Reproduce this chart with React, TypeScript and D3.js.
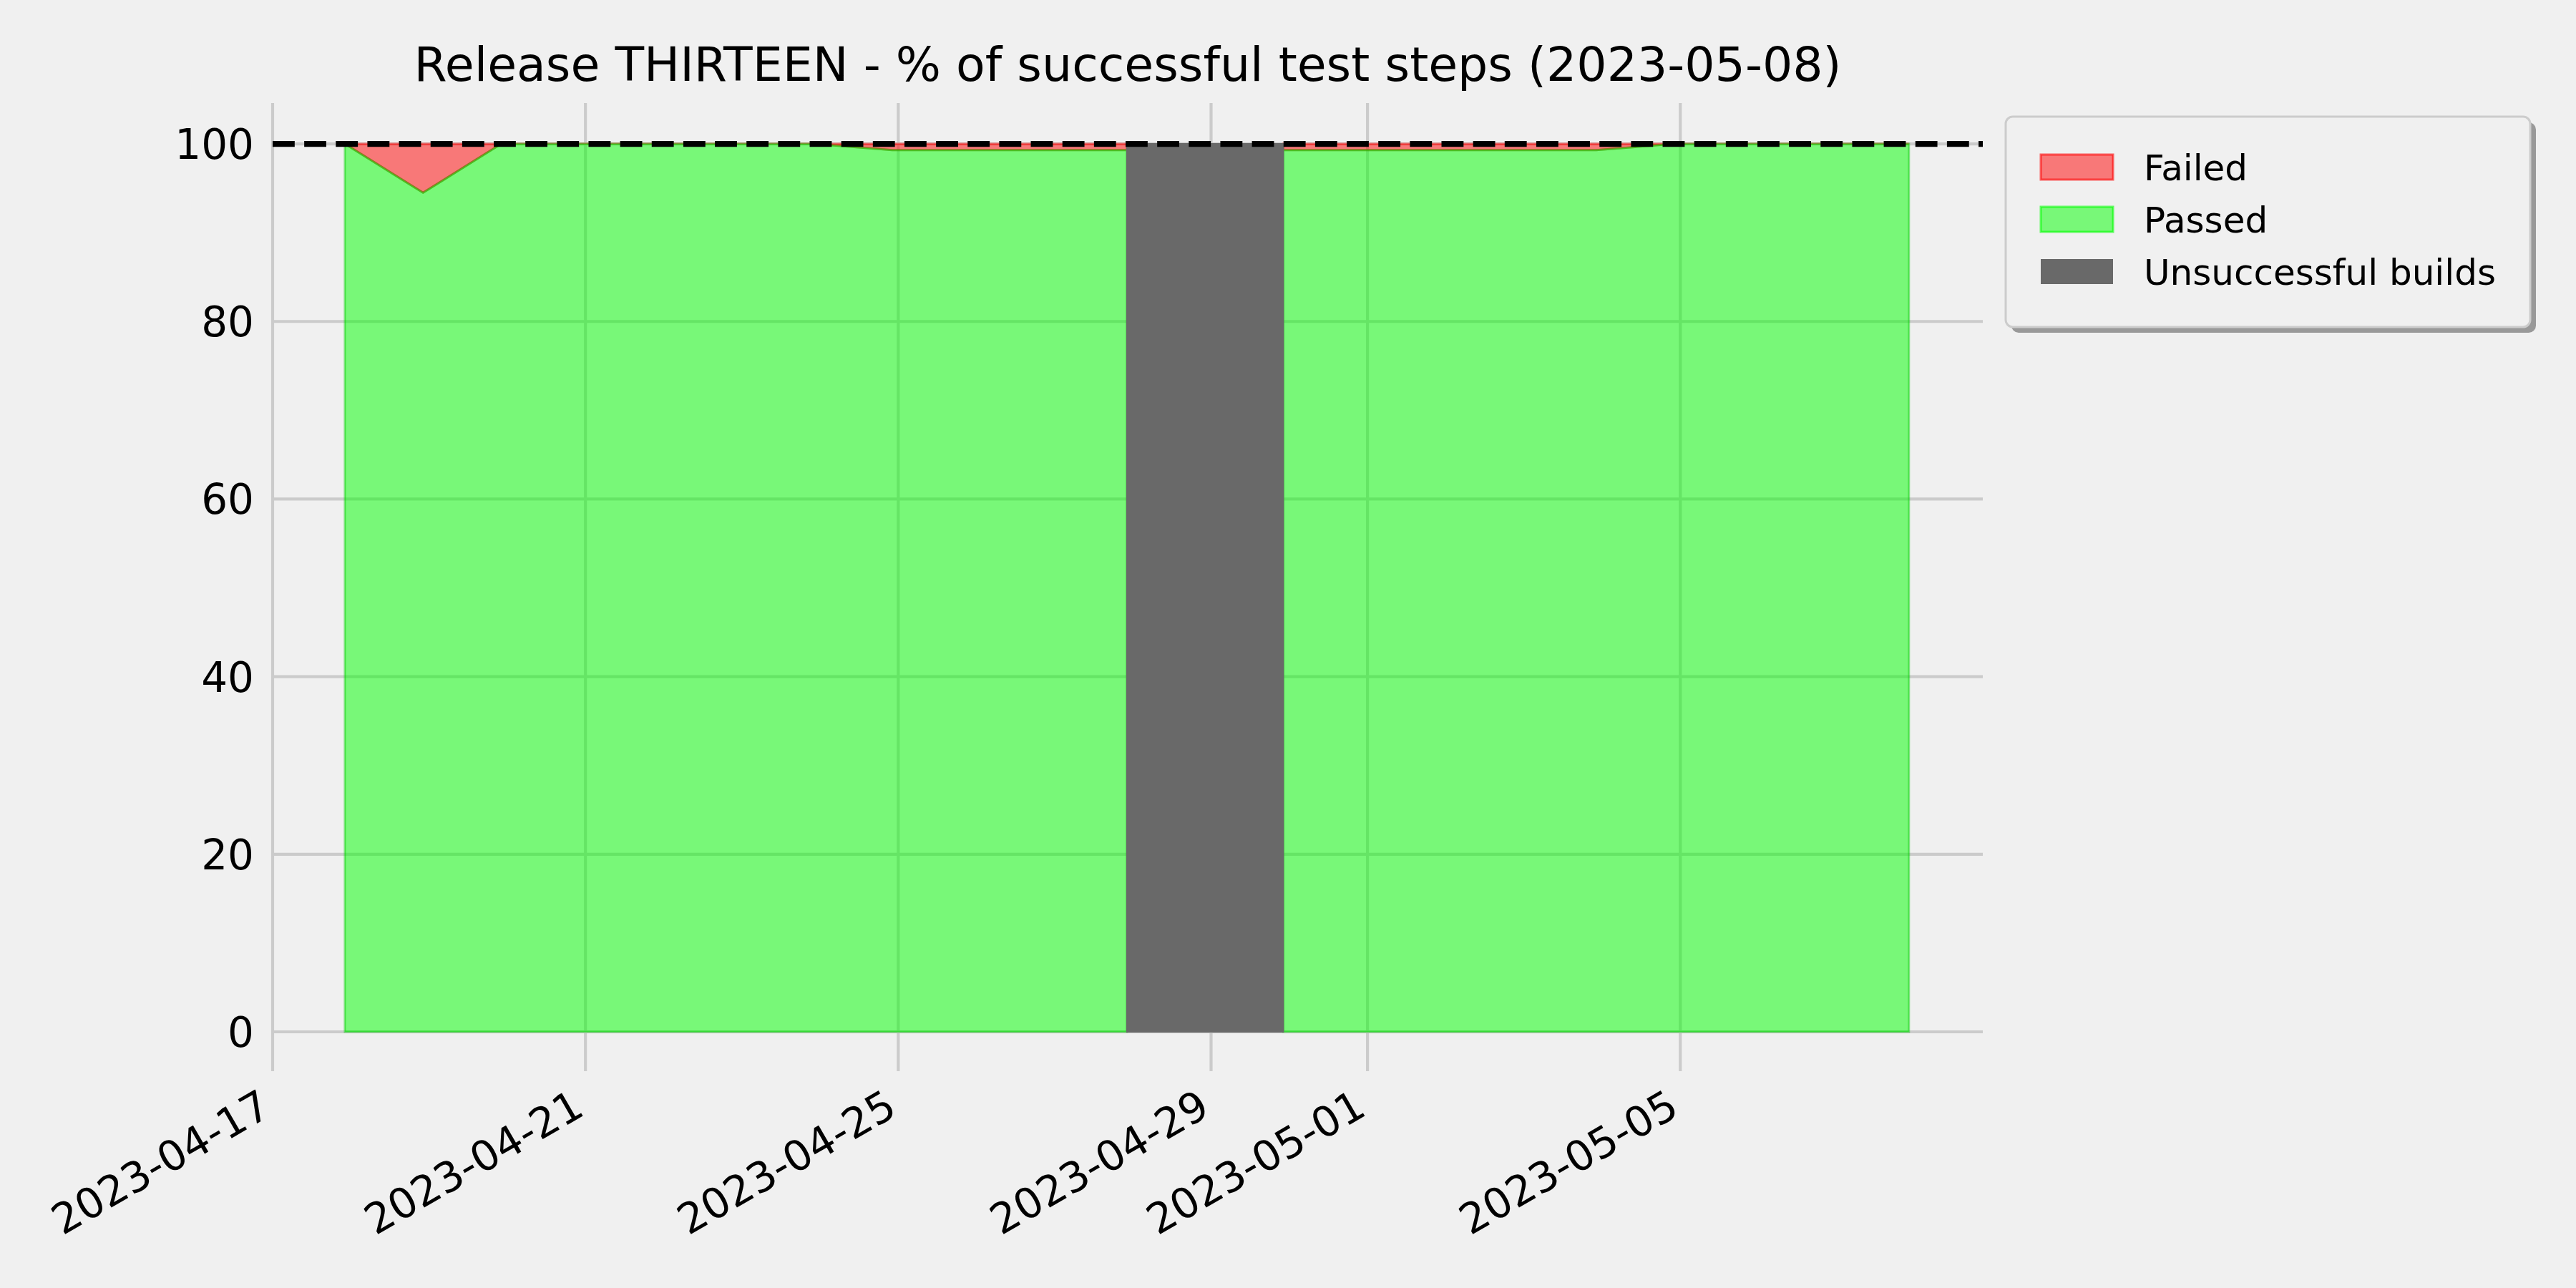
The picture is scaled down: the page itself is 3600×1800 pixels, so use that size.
import React from 'react';
import * as d3 from 'd3';

// nightly build results, one point per day (build finishes ~22:10)
const buildDays = [
  '2023-04-17', '2023-04-18', '2023-04-19', '2023-04-20', '2023-04-21', '2023-04-22', '2023-04-23',
  '2023-04-24', '2023-04-25', '2023-04-26', '2023-04-27', '2023-04-28', '2023-04-29', '2023-04-30',
  '2023-05-01', '2023-05-02', '2023-05-03', '2023-05-04', '2023-05-05', '2023-05-06', '2023-05-07',
];
const BUILD_TIME = 'T22:10';

const passedPct = [
  100, 94.5, 100, 100, 100, 100, 100,
  99.3, 99.3, 99.3, 99.3, null, 99.3, 99.3,
  99.3, 99.3, 99.3, 100, 100, 100, 100,
];
const failedPct = [
  0, 5.5, 0, 0, 0, 0, 0,
  0.7, 0.7, 0.7, 0.7, null, 0.7, 0.7,
  0.7, 0.7, 0.7, 0, 0, 0, 0,
];
const unsuccessfulBuilds = ['2023-04-28'];

const xTicks = ['2023-04-17', '2023-04-21', '2023-04-25', '2023-04-29', '2023-05-01', '2023-05-05'];
const yTicks = [0, 20, 40, 60, 80, 100];
const X_LIMITS = ['2023-04-17T00:00', '2023-05-08T20:50'];
const Y_LIMITS = [0, 104.6];
const TITLE = 'Release THIRTEEN - % of successful test steps (2023-05-08)';

const legendItems = [
  { label: 'Failed', fill: '#ff0000', fillOpacity: 0.5, stroke: '#ff0000' },
  { label: 'Passed', fill: '#00ff00', fillOpacity: 0.5, stroke: '#00ff00' },
  { label: 'Unsuccessful builds', fill: '#696969', fillOpacity: 1, stroke: 'none' },
];

const W = 3600;
const H = 1800;
const M = { left: 381, right: 2771, top: 144, bottom: 1442 };
const FONT = '"DejaVu Sans", sans-serif';
const BG = '#f0f0f0';
const GRID = '#cbcbcb';

const parseDay = d3.timeParse('%Y-%m-%d');
const parseStamp = d3.timeParse('%Y-%m-%dT%H:%M');

export default function App() {
  const x = d3.scaleTime()
    .domain(X_LIMITS.map(d => parseStamp(d)))
    .range([M.left, M.right]);
  const y = d3.scaleLinear().domain(Y_LIMITS).range([M.bottom, M.top]);

  const rows = buildDays.map((d, i) => ({
    date: parseStamp(d + BUILD_TIME),
    day: d,
    passed: passedPct[i],
    failed: failedPct[i],
  }));

  const ok = d => d.passed != null;

  const passedArea = d3.area()
    .defined(ok)
    .x(d => x(d.date))
    .y0(y(0))
    .y1(d => y(d.passed));

  const failedArea = d3.area()
    .defined(ok)
    .x(d => x(d.date))
    .y0(d => y(d.passed))
    .y1(d => y(d.passed + d.failed));

  // grey band spans from the build before to the build after each broken one
  const badIdx = new Set();
  unsuccessfulBuilds.forEach(b => {
    const i = buildDays.indexOf(b);
    [i - 1, i, i + 1].forEach(k => { if (k >= 0 && k < rows.length) badIdx.add(k); });
  });
  const unsuccessfulArea = d3.area()
    .defined((d, i) => badIdx.has(i))
    .x(d => x(d.date))
    .y0(y(0))
    .y1(y(100));

  const dash = 8.33;

  return (
    <div style={{ position: 'absolute', left: 0, top: 0 }}>
      <svg width={W} height={H} style={{ display: 'block', background: BG }} fontFamily={FONT}>
        <rect width={W} height={H} fill={BG} />

        {/* grid */}
        {yTicks.map(t => (
          <line key={'gy' + t} x1={M.left} x2={M.right} y1={y(t)} y2={y(t)} stroke={GRID} strokeWidth={4.17} />
        ))}
        {xTicks.map(t => (
          <line key={'gx' + t} x1={x(parseDay(t))} x2={x(parseDay(t))} y1={M.top} y2={M.bottom + 55}
            stroke={GRID} strokeWidth={4.17} />
        ))}

        {/* stacked areas */}
        <path d={failedArea(rows)} fill="#ff0000" fillOpacity={0.5} stroke="#ff0000" strokeOpacity={0.5} strokeWidth={3} />
        <path d={passedArea(rows)} fill="#00ff00" fillOpacity={0.5} stroke="#00cc00" strokeOpacity={0.45} strokeWidth={3} />
        <path d={unsuccessfulArea(rows)} fill="#696969" stroke="#696969" strokeWidth={2} />

        {/* 100% reference */}
        <line x1={M.left} x2={M.right} y1={y(100)} y2={y(100)} stroke="#000" strokeWidth={dash}
          strokeDasharray={`${3.7 * dash} ${1.6 * dash}`} />

        {/* y tick labels */}
        {yTicks.map(t => (
          <text key={'ty' + t} x={M.left - 26} y={y(t)} dy="0.36em" textAnchor="end" fontSize={58} fill="#000">
            {t}
          </text>
        ))}

        {/* x tick labels, rotated */}
        {xTicks.map(t => (
          <text key={'tx' + t} textAnchor="end" fontSize={58.5} fill="#000"
            transform={`translate(${x(parseDay(t)) + 1},${M.bottom + 115}) rotate(-30)`}>
            {t}
          </text>
        ))}

        <text x={(M.left + M.right) / 2} y={113} textAnchor="middle" fontSize={66.5} fill="#000">
          {TITLE}
        </text>

        {/* legend */}
        <g>
          <rect x={2811} y={171} width={733} height={294} rx={10} fill="#999999" />
          <rect x={2803} y={163} width={733} height={294} rx={10} fill={BG} stroke="#cccccc" strokeWidth={3} />
          {legendItems.map((it, i) => (
            <g key={it.label} transform={`translate(2852,${233.5 + i * 73})`}>
              <rect x={0} y={-17.5} width={101} height={35} fill={it.fill} fillOpacity={it.fillOpacity}
                stroke={it.stroke} strokeOpacity={0.6} strokeWidth={3} />
              <text x={144} y={0} dy="0.36em" fontSize={50} fill="#000">{it.label}</text>
            </g>
          ))}
        </g>
      </svg>
    </div>
  );
}
